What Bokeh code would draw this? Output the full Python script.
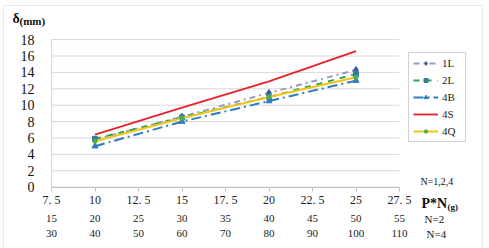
from bokeh.plotting import figure
from bokeh.models import (LinearAxis, FixedTicker, Label, Legend, LegendItem,
                          BoxAnnotation, Range1d)
from bokeh.embed import file_html
from bokeh.resources import INLINE

# ---- data ----
x_vals = [10, 15, 20, 25]
s_1L = [5.8, 8.6, 11.5, 14.3]
s_2L = [5.9, 8.5, 11.0, 13.8]
s_4B = [5.0, 8.0, 10.5, 13.0]
s_4S = [6.4, 9.7, 12.9, 16.6]
s_4Q = [5.6, 8.4, 11.0, 13.4]

x_ticks = [7.5, 10, 12.5, 15, 17.5, 20, 22.5, 25, 27.5]
row1_labels = ["7. 5", "10", "12. 5", "15", "17. 5", "20", "22. 5", "25", "27. 5"]
row2_labels = ["15", "20", "25", "30", "35", "40", "45", "50", "55"]
row3_labels = ["30", "40", "50", "60", "70", "80", "90", "100", "110"]
y_ticks = [0, 2, 4, 6, 8, 10, 12, 14, 16, 18]

FONT = "Liberation Serif"
W, H = 489, 248
# layout: plot value area maps x 7.5..27.5 -> px 51..399, y 0..18 -> px 186.7..39.1
PX_X0, PX_PER_X = 51.0, 17.4
PX_Y0, PX_PER_Y = 186.7, 8.2

def xd(px):
    return 7.5 + (px - PX_X0) / PX_PER_X

def yd(py):
    return (PX_Y0 - py) / PX_PER_Y

p = figure(width=W, height=H, output_backend="svg", toolbar_location=None,
           x_range=Range1d(xd(0), xd(W)), y_range=Range1d(yd(H), yd(0)),
           min_border=0, x_axis_location=None, y_axis_location=None)
p.outline_line_color = None
p.grid.visible = False
p.background_fill_color = "white"
p.border_fill_color = "white"

# horizontal grid lines at the y ticks, spanning the x tick range
p.segment(x0=[x_ticks[0]] * len(y_ticks), x1=[x_ticks[-1]] * len(y_ticks),
          y0=y_ticks, y1=y_ticks, line_color="#d9d9d9", line_width=1)

# y axis
yax = LinearAxis(ticker=FixedTicker(ticks=y_ticks), fixed_location=x_ticks[0],
                 bounds=(y_ticks[0], y_ticks[-1]))
yax.axis_line_color = "#d9d9d9"
yax.major_tick_line_color = None
yax.minor_tick_line_color = None
yax.major_label_standoff = 11
yax.major_label_text_font = FONT
yax.major_label_text_font_size = "14px"
yax.major_label_text_color = "#111111"
p.add_layout(yax, "left")

def make_xaxis(labels, loc, standoff, tick_out, show_line, size):
    ax = LinearAxis(ticker=FixedTicker(ticks=x_ticks), fixed_location=loc,
                    bounds=(x_ticks[0], x_ticks[-1]))
    ax.major_label_overrides = {t: l for t, l in zip(x_ticks, labels)}
    ax.axis_line_color = "#bfbfbf" if show_line else None
    ax.major_tick_line_color = "#bfbfbf" if show_line else None
    ax.major_tick_out = tick_out
    ax.major_tick_in = 0
    ax.minor_tick_line_color = None
    ax.major_label_standoff = standoff
    ax.major_label_text_font = FONT
    ax.major_label_text_font_size = size
    ax.major_label_text_color = "#222222"
    return ax

p.add_layout(make_xaxis(row1_labels, 0, 2, 4, True, "12px"), "below")
p.add_layout(make_xaxis(row2_labels, yd(214.5), 0, 0, False, "11px"), "below")
p.add_layout(make_xaxis(row3_labels, yd(229.5), 0, 0, False, "11px"), "below")

# series
r1l = p.line(x_vals, s_1L, line_color="#9a98c8", line_width=2, line_dash="dashdot")
m1l = p.scatter(x_vals, s_1L, marker="diamond", size=7, color="#3d5a9a")
r2l = p.line(x_vals, s_2L, line_color="#2aa84a", line_width=2, line_dash="dashed")
m2l = p.scatter(x_vals, s_2L, marker="square", size=5, color="#3a7aa0")
r4b = p.line(x_vals, s_4B, line_color="#2f7bc0", line_width=2, line_dash="10 4 2 4")
m4b = p.scatter(x_vals, s_4B, marker="triangle", size=6, color="#2f7bc0")
r4s = p.line(x_vals, s_4S, line_color="#e8202a", line_width=1.8)
r4q = p.line(x_vals, s_4Q, line_color="#f0c419", line_width=2)
m4q = p.scatter(x_vals, s_4Q, marker="asterisk", size=5, color="#4caf50", line_width=1.5)

legend = Legend(items=[
    LegendItem(label="1L", renderers=[r1l, m1l]),
    LegendItem(label="2L", renderers=[r2l, m2l]),
    LegendItem(label="4B", renderers=[r4b, m4b]),
    LegendItem(label="4S", renderers=[r4s]),
    LegendItem(label="4Q", renderers=[r4q, m4q]),
], location=(408, H - 142))
legend.margin = 0
legend.padding = 4
legend.spacing = 5
legend.glyph_width = 25
legend.glyph_height = 10
legend.label_height = 10
legend.label_width = 19
legend.label_standoff = 4
legend.label_text_font = FONT
legend.label_text_font_size = "11px"
legend.label_text_color = "#222222"
legend.border_line_color = "#a6a6a6"
legend.background_fill_color = "white"
legend.background_fill_alpha = 1
p.add_layout(legend, "center")

# free texts, placed in screen pixels (frame == whole canvas, y measured up)
def lab(cx, cy, text, size, bold=False):
    l = Label(x=cx, y=H - cy, x_units="screen", y_units="screen", text=text,
              text_font=FONT, text_font_size=size, text_align="left",
              text_baseline="middle", text_color="#111111",
              text_font_style="bold" if bold else "normal")
    p.add_layout(l)

lab(12, 18, "δ", "14px", True)
lab(19, 20, "(mm)", "11px", True)
lab(420, 181, "N=1,2,4", "10px")
lab(421, 203, "P*N", "14px", True)
lab(447, 206, "(g)", "9px", True)
lab(424, 218, "N=2", "11px")
lab(426, 233, "N=4", "11px")

box = BoxAnnotation(left=3, right=482, top=H - 5, bottom=-20,
                    left_units="screen", right_units="screen",
                    top_units="screen", bottom_units="screen",
                    fill_alpha=0, line_color="#b8b8b8", line_width=1)
p.add_layout(box)

open("out.html", "w").write(file_html(p, INLINE))
